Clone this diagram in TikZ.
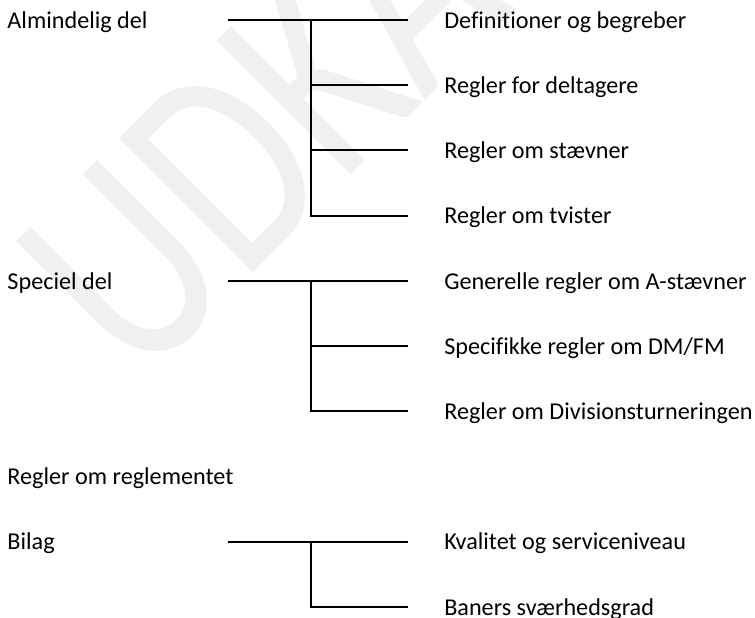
\documentclass[tikz,border=0pt]{standalone}
\usepackage{fontspec}
\setmainfont{Carlito}[Ligatures=NoCommon]
\usepackage{xcolor}
\usepackage{tikz}

\definecolor{wmgray}{RGB}{240,240,240}
\tikzset{
    lbl/.style={anchor=base west, inner sep=0pt, font=\fontsize{17.2}{20}\selectfont},
    branch/.style={line width=1.4pt},
    watermark/.style={anchor=base west, inner sep=0pt, text=wmgray, rotate=45, yscale=1.3,
        font=\fontsize{161.5}{160}\selectfont}
}

\begin{document}
\begin{tikzpicture}
            \useasboundingbox (0,0) rectangle (18.875,15.45);
            \clip (0,0) rectangle (18.875,15.45);
            \node[watermark] (udkast) at (3.475,5.775) {UDKAST};

            \node[lbl] (alm) at (0.18,14.74) {Almindelig del};
            \node[lbl] (def) at (11.1,14.74) {Definitioner og begreber};
            \node[lbl] (dlt) at (11.1,13.11) {Regler for deltagere};
            \node[lbl] (stv) at (11.1,11.48) {Regler om stævner};
            \node[lbl] (tvi) at (11.1,9.85) {Regler om tvister};
            \node[lbl] (spc) at (0.18,8.22) {Speciel del};
            \node[lbl] (gen) at (11.1,8.22) {Generelle regler om A-stævner};
            \node[lbl] (dmfm) at (11.1,6.59) {Specifikke regler om DM/FM};
            \node[lbl] (div) at (11.1,4.96) {Regler om Divisionsturneringen};
            \node[lbl] (rgl) at (0.18,3.33) {Regler om reglementet};
            \node[lbl] (bil) at (0.18,1.70) {Bilag};
            \node[lbl] (kval) at (11.1,1.70) {Kvalitet og serviceniveau};
            \node[lbl] (ban) at (11.1,0.07) {Baners sværhedsgrad};

            \coordinate (alm-in) at (5.7,14.95);
            \coordinate (alm-fork) at (7.775,14.95);
            \coordinate (def-in) at (10.2,14.95);
            \coordinate (dlt-in) at (10.2,13.32);
            \coordinate (stv-in) at (10.2,11.69);
            \coordinate (tvi-in) at (10.2,10.06);
            \coordinate (spc-in) at (5.7,8.43);
            \coordinate (spc-fork) at (7.775,8.43);
            \coordinate (gen-in) at (10.2,8.43);
            \coordinate (dmfm-in) at (10.2,6.80);
            \coordinate (div-in) at (10.2,5.17);
            \coordinate (bil-in) at (5.7,1.91);
            \coordinate (bil-fork) at (7.775,1.91);
            \coordinate (kval-in) at (10.2,1.91);
            \coordinate (ban-in) at (10.2,0.28);

            \draw[branch] (alm-in) -- (def-in); % alm-def
            \draw[branch] (alm-fork) |- (dlt-in); % alm-dlt
            \draw[branch] (alm-fork) |- (stv-in); % alm-stv
            \draw[branch] (alm-fork) |- (tvi-in); % alm-tvi

            \draw[branch] (spc-in) -- (gen-in); % spc-gen
            \draw[branch] (spc-fork) |- (dmfm-in); % spc-dmfm
            \draw[branch] (spc-fork) |- (div-in); % spc-div

            \draw[branch] (bil-in) -- (kval-in); % bil-kval
            \draw[branch] (bil-fork) |- (ban-in); % bil-ban
\end{tikzpicture}
\end{document}
